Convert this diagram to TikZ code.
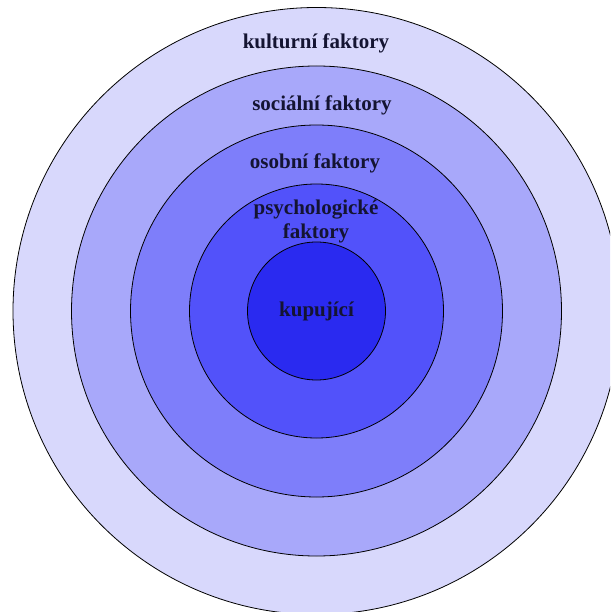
\documentclass[tikz,border=0pt]{standalone}
\usepackage{fontspec}
\setmainfont{Liberation Serif}
\usepackage{xcolor}
\definecolor{ring1}{RGB}{216,216,252}
\definecolor{ring2}{RGB}{168,168,250}
\definecolor{ring3}{RGB}{126,126,250}
\definecolor{ring4}{RGB}{82,82,250}
\definecolor{ring5}{RGB}{42,42,240}
\definecolor{navy900}{RGB}{20,20,50}
\usetikzlibrary{positioning}

\begin{document}
\begin{tikzpicture}[
        x=1pt, y=-1pt,
        ring/.style={circle, draw=black, line width=0.8pt, inner sep=0pt},
        label/.style={font=\bfseries\fontsize{21}{24}\selectfont, text=navy900, align=center}
    ]
        \useasboundingbox (0,0) rectangle (610,612);
        \clip (0,0) rectangle (610,612);
        \coordinate (c) at (316.5,311);

        % Rings
        \node[ring, fill=ring1, minimum size=607pt] (kulturni) at (c) {};
        \node[ring, fill=ring2, minimum size=490pt] (socialni) at (c) {};
        \node[ring, fill=ring3, minimum size=372pt] (osobni) at (c) {};
        \node[ring, fill=ring4, minimum size=254pt] (psycho) at (c) {};
        \node[ring, fill=ring5, minimum size=138pt] (kupujici) at (c) {};

        % Labels
        \node[label] (kulturniText) at (316,43) {kulturní faktory};
        \node[label] (socialniText) at (322,105) {sociální faktory};
        \node[label] (osobniText) at (315,163) {osobní faktory};
        \node[label] (psychoText) at (316,221) {psychologické\\faktory};
        \node[label] (kupujiciText) at (kupujici) {kupující};
    \end{tikzpicture}
\end{document}
